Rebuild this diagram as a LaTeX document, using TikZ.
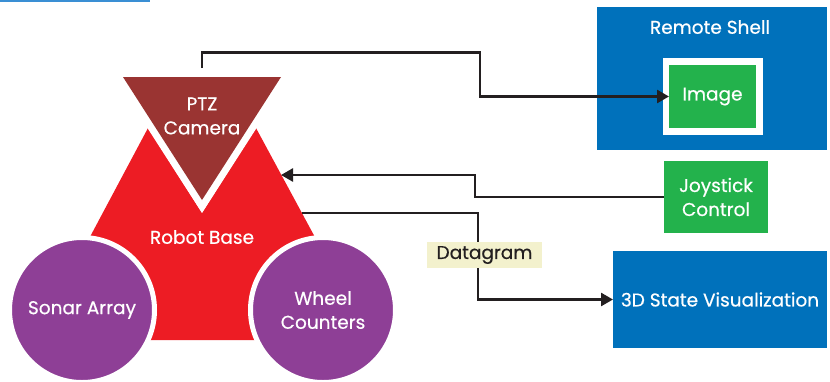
\documentclass[tikz,border=0pt]{standalone}
\usepackage{fontspec}
\setmainfont{Poppins}[FakeBold=0.5]
\usetikzlibrary{arrows.meta,calc}
\definecolor{topblue}{HTML}{3A8FD4}
\definecolor{robotred}{HTML}{ED1C24}
\definecolor{camred}{HTML}{9A3432}
\definecolor{purp}{HTML}{8E3F96}
\definecolor{boxblue}{HTML}{0071BB}
\definecolor{boxgreen}{HTML}{23B24C}
\definecolor{dgbg}{HTML}{F3F1CD}
\definecolor{linec}{HTML}{231F20}
\begin{document}
\begin{tikzpicture}[x=1pt,y=-1pt,
  font=\fontsize{18.5}{24}\selectfont,
  lbl/.style={text=white, align=center, inner sep=0pt},
  circ/.style={circle, fill=purp, draw=white, line width=5pt, minimum size=145pt, inner sep=0pt, text=white, align=center},
  bbox/.style={rectangle, fill=boxblue, inner sep=0pt, outer sep=0pt, text=white, align=center},
  gbox/.style={rectangle, fill=boxgreen, inner sep=0pt, outer sep=0pt, text=white, align=center},
  conn/.style={draw=linec, line width=2.6pt},
  arr/.style={-{Triangle[length=12pt,width=13pt]}}]
\useasboundingbox (0,0) rectangle (830,381);
\draw[topblue, line width=2pt] (0,1) -- (150,1);
% robot base
\fill[robotred] (75,265) -- (148,128) -- (202,213) -- (256,128) -- (330,265) -- (330,340) -- (75,340) -- cycle;
% camera triangle with white gap
\draw[white, line width=14pt, line join=miter] (123,77) -- (281,77) -- (202,200) -- cycle;
\fill[camred] (123,77) -- (281,77) -- (202,200) -- cycle;
\node[lbl] (cam) at (202,116) {PTZ\\Camera};
\node[lbl] (base) at (202,237) {Robot Base};
% wheels
\node[circ] (sonar) at (82,310) {Sonar Array};
\node[circ] (wheel) at (323,310) {Wheel\\Counters};
% remote shell
\node[bbox, minimum width=230pt, minimum height=143pt] (shell) at (712,78.5) {};
\node[lbl] (shelltitle) at (710,27) {Remote Shell};
\fill[white] (663,58) rectangle (763,135);
\node[gbox, minimum width=87pt, minimum height=63pt] (image) at (712.5,96.5) {Image};
\node[gbox, minimum width=104pt, minimum height=72pt] (joy) at (716,197) {Joystick\\Control};
\node[bbox, minimum width=214pt, minimum height=97pt] (viz) at (720,299.5) {3D State Visualization};
% connectors
\coordinate (camtop) at (202,68);
\coordinate (baseR) at (281,175);
\coordinate (baseOut) at (302,213);
\draw[conn,arr] (camtop) |- ($(image.west)+(-189,-44)$) |- (image.west);
\draw[conn,arr] (joy.west) -| ($(baseR)+(194,0)$) -- (baseR);
\draw[conn,arr] (baseOut) -| ($(viz.west)+(-135,0)$) -- (viz.west);
\node[fill=dgbg, text=linec, minimum width=115pt, minimum height=26pt, inner sep=0pt] (dg) at (484.5,255) {Datagram};
\end{tikzpicture}
\end{document}
